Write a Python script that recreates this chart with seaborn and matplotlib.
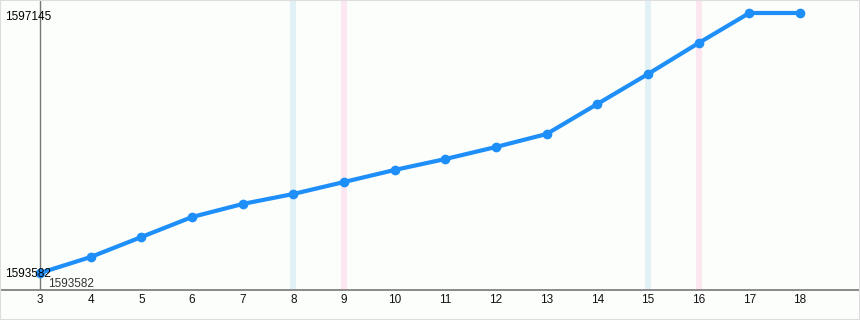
import matplotlib
matplotlib.use("Agg")
import matplotlib.pyplot as plt
import seaborn as sns
import pandas as pd

x_vals = [3, 4, 5, 6, 7, 8, 9, 10, 11, 12, 13, 14, 15, 16, 17, 18]
y_vals = [1593582, 1593801, 1594075, 1594349, 1594528, 1594665, 1594829, 1594994,
          1595144, 1595309, 1595487, 1595898, 1596309, 1596734, 1597145, 1597145]
blue_bands = [8, 15]
pink_bands = [9, 16]
y_min_label = 1593582
y_max_label = 1597145

sns.set_theme(style="white")
plt.rcParams['font.family'] = ['Liberation Sans', 'DejaVu Sans']

W, H = 860, 320
fig = plt.figure(figsize=(W / 100, H / 100), dpi=100)
fig.patch.set_facecolor("#fcfefc")
ax = fig.add_axes([0, 30 / H, 1, 290 / H])
ax.set_facecolor("#fbfefb")

df = pd.DataFrame({"x": x_vals, "y": y_vals})

px_per_x = (800 - 40) / 15.0
ax.set_xlim(3 - 40 / px_per_x, 3 + 820 / px_per_x)
px_per_y = (273 - 13) / (y_max_label - y_min_label)
ax.set_ylim(y_min_label - 17 / px_per_y, y_max_label + 13 / px_per_y)

for b in blue_bands:
    ax.axvspan(b - 0.06, b + 0.06, color="#e2f1f5", zorder=0, lw=0)
for b in pink_bands:
    ax.axvspan(b - 0.06, b + 0.06, color="#fce6ef", zorder=0, lw=0)

ax.axvline(3, color="#777777", lw=1, zorder=1)

sns.lineplot(data=df, x="x", y="y", ax=ax, color="#1e8ff8", lw=3,
             marker="o", markersize=7, markeredgewidth=0, zorder=3)

ax.set_xticks(x_vals)
ax.set_xticklabels([str(v) for v in x_vals], fontsize=8.5, color="#111111")
ax.tick_params(axis="x", length=0, pad=3)
ax.set_yticks([])
ax.set_xlabel("")
ax.set_ylabel("")
for s in ["left", "right", "top"]:
    ax.spines[s].set_visible(False)
ax.spines["bottom"].set_color("#777777")
ax.spines["bottom"].set_linewidth(1.2)

ax.text(5 / W, 1 - 17 / 290, str(y_max_label), transform=ax.transAxes,
        fontsize=8.5, color="black", ha="left", va="center")
ax.text(5 / W, 1 - 274 / 290, str(y_min_label), transform=ax.transAxes,
        fontsize=8.5, color="black", ha="left", va="center")
ax.text(3 + 8 / px_per_x, y_min_label - 11 / px_per_y, str(y_min_label),
        fontsize=8.5, color="#333333", ha="left", va="center")

fig.add_artist(plt.Rectangle((0, 0), 1, 1, transform=fig.transFigure,
                             fill=False, ec="#dddddd", lw=1.5))

fig.savefig("out.png", dpi=100, facecolor=fig.get_facecolor())
